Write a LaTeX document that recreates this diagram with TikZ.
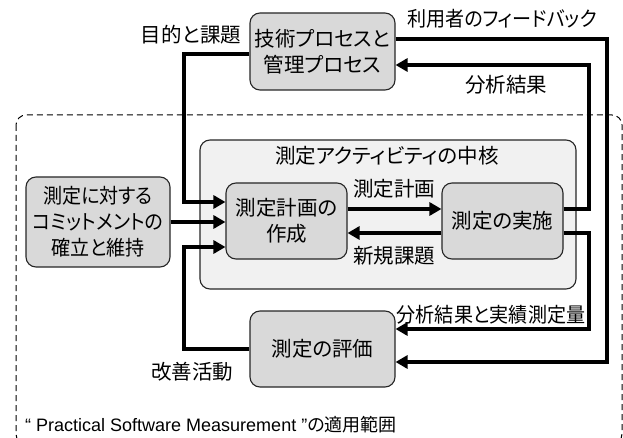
\documentclass[tikz,border=0pt]{standalone}
\usepackage{fontspec}
\setmainfont[RawFeature=+palt]{Noto Sans CJK JP}
\newfontfamily\pjn[RawFeature=+palt,FakeStretch=0.93]{Noto Sans CJK JP}
\newfontfamily\lat{Liberation Sans}
\usetikzlibrary{arrows.meta}
\definecolor{boxgray}{HTML}{D9D9D9}
\definecolor{coregray}{HTML}{F1F1F1}
\definecolor{edge}{HTML}{262626}
\begin{document}
\begin{tikzpicture}[x=1pt,y=-1pt,
  every node/.style={font=\fontsize{20.5}{26.5}\selectfont},
  box/.style={draw=edge,line width=1.1pt,fill=boxgray,rounded corners=10pt,inner sep=0pt,align=center},
  lbl/.style={inner sep=0pt},
  arr/.style={line width=3.2pt,-{Triangle[length=12pt,width=13pt]}}]
\useasboundingbox (0,0) rectangle (623,438);
\begin{scope}
\clip (0,0) rectangle (623,438);
\draw[line width=1pt,dash pattern=on 6pt off 4pt,rounded corners=10pt] (16,115) rectangle (622,444);
\end{scope}
% core
\node[draw=edge,line width=1.1pt,fill=coregray,rounded corners=10pt,minimum width=376pt,minimum height=149pt,inner sep=0pt] (core) at (388,214.5) {};
\node[lbl] (coret) at (387,156) {測定アクティビティの中核};
% boxes
\node[box,minimum width=145pt,minimum height=77pt] (tp) at (322.5,51.5) {技術プロセスと\\管理プロセス};
\node[box,minimum width=144pt,minimum height=90pt,font=\pjn\fontsize{20.5}{26}\selectfont] (cm) at (98,222) {測定に対する\\コミットメントの\\確立と維持};
\node[box,minimum width=121pt,minimum height=76pt] (pl) at (286.5,221) {測定計画の\\作成};
\node[box,minimum width=121pt,minimum height=76pt] (ex) at (502.5,221) {測定の実施};
\node[box,minimum width=145pt,minimum height=76pt] (ev) at (322.5,349) {測定の評価};
% labels
\node[lbl] (l1) at (191,35) {目的と課題};
\node[lbl] (l2) at (502,19) {\pjn 利用者のフィードバック};
\node[lbl] (l3) at (506,85) {分析結果};
\node[lbl] (l4) at (394,189) {測定計画};
\node[lbl] (l5) at (394,256) {新規課題};
\node[lbl] (l6) at (491,315) {\pjn 分析結果と実績測定量};
\node[lbl] (l7) at (192,372) {改善活動};
\node[lbl,anchor=west,font=\fontsize{18}{22}\selectfont] (l8) at (25,425) {{\lat “ Practical Software Measurement ”}の適用範囲};
% connectors
\draw[arr] (tp.west |- 0,54) -| (184,202) -- (pl.west |- 0,202);
\draw[arr] (cm.east |- 0,222) -- (pl.west |- 0,222);
\draw[arr] (ev.west) -| (184,247) -- (pl.west |- 0,247);
\draw[arr] (pl.east |- 0,209) -- (ex.west |- 0,209);
\draw[arr] (ex.west |- 0,233) -- (pl.east |- 0,233);
\draw[arr] (ex.east |- 0,209) -| (589,65) -- (tp.east |- 0,65);
\draw[arr] (ex.east |- 0,233) -| (589,329) -- (ev.east |- 0,329);
\draw[arr] (tp.east |- 0,39) -| (607,362) -- (ev.east |- 0,362);
\end{tikzpicture}
\end{document}
